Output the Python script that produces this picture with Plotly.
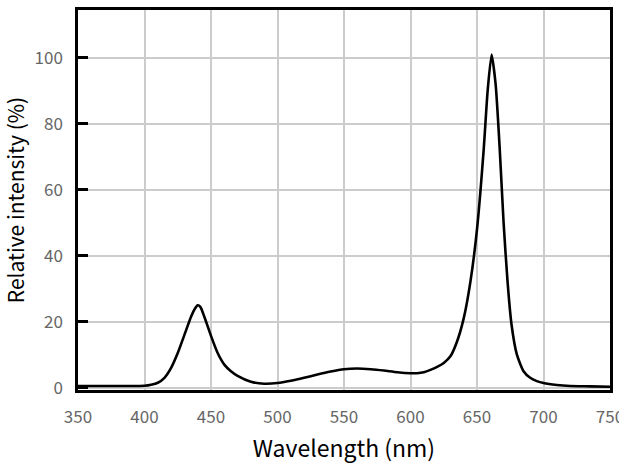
import plotly.graph_objects as go

wavelength = [350, 380, 400, 405, 410, 415, 420, 425, 430, 435, 438, 440, 442, 445, 450, 455, 460, 465, 470, 480,
              490, 500, 510, 520, 530, 540, 550, 560, 570, 580, 590, 600, 605, 610, 615, 620, 625, 630, 635, 640,
              645, 650, 655, 658, 661, 664, 667, 670, 673, 676, 680, 685, 690, 695, 700, 710, 720, 735, 750]
intensity = [0.5, 0.5, 0.6, 0.9, 1.5, 3.0, 6.0, 10.5, 16.0, 21.5, 24.0, 25.0, 24.5, 21.5, 15.7, 10.5, 7.0, 5.0, 3.6, 1.8,
             1.2, 1.4, 2.1, 3.0, 4.0, 4.9, 5.6, 5.8, 5.6, 5.2, 4.7, 4.4, 4.4, 4.7, 5.4, 6.3, 7.5, 9.5, 14.0, 21.0,
             32.0, 48.0, 72.0, 90.0, 101.0, 92.0, 73.0, 50.0, 32.0, 19.0, 10.0, 5.0, 3.0, 2.0, 1.4, 0.8, 0.5, 0.4, 0.3]

x_ticks = [350, 400, 450, 500, 550, 600, 650, 700, 750]
y_ticks = [0, 20, 40, 60, 80, 100]

font_family = "Noto Sans CJK KR, Noto Sans, sans-serif"

fig = go.Figure()
fig.add_trace(go.Scatter(
    x=wavelength, y=intensity, mode="lines",
    line=dict(color="black", width=2.6, shape="spline", smoothing=0.6),
    showlegend=False,
))

fig.update_layout(
    width=619, height=465,
    margin=dict(l=78, r=9, t=10, b=75),
    paper_bgcolor="white", plot_bgcolor="white",
    font=dict(family=font_family, color="#666666", size=17),
)
fig.update_xaxes(
    range=[350, 750], tickvals=x_ticks, ticktext=[str(v) for v in x_ticks],
    showgrid=True, gridcolor="#cccccc", gridwidth=2,
    showline=True, linecolor="black", linewidth=2.5, mirror=True,
    ticks="", zeroline=False, automargin=False, ticklabelstandoff=10,
    ticklabeloverflow="allow",
    tickfont=dict(size=17, color="#666666"),
    title=dict(text="Wavelength (nm)", font=dict(size=23, color="#000000", family=font_family), standoff=14),
)
fig.update_yaxes(
    range=[-0.7, 114.5], tickvals=y_ticks, ticktext=[str(v) for v in y_ticks],
    showgrid=True, gridcolor="#cccccc", gridwidth=2,
    showline=True, linecolor="black", linewidth=2.5, mirror=True,
    ticks="inside", ticklen=10, tickwidth=2.5, tickcolor="black", zeroline=False,
    automargin=False, ticklabelstandoff=9,
    tickfont=dict(size=17, color="#666666"),
    title=dict(text="Relative intensity (%)", font=dict(size=21, color="#000000", family=font_family), standoff=16),
)

fig.write_html("out.html")
